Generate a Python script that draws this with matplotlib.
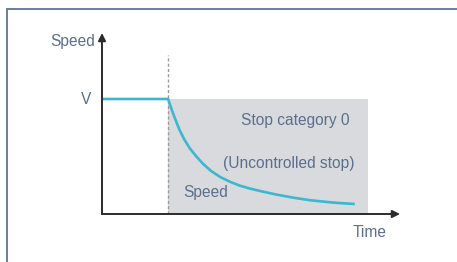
import matplotlib.pyplot as plt
from matplotlib.lines import Line2D

# Speed profile for a category 0 stop (speed as fraction of V, time in units of t_stop)
t_run = [0.0, 1.0]
v_run = [1.0, 1.0]
t_decay = [1.0, 1.04, 1.08, 1.13, 1.18, 1.25, 1.33, 1.43, 1.53, 1.65, 1.79, 1.94,
           2.09, 2.25, 2.41, 2.65, 2.92, 3.15, 3.42, 3.6, 3.83]
v_decay = [1.0, 0.935, 0.87, 0.795, 0.725, 0.645, 0.572, 0.5, 0.437, 0.375, 0.322, 0.28,
           0.246, 0.22, 0.198, 0.168, 0.14, 0.12, 0.104, 0.095, 0.087]
stop_window = [1.0, 4.03]
v_level = 1.0

text_col = "#5b6f8c"
line_col = "#3db6cf"
plt.rcParams["font.family"] = ["Liberation Sans", "DejaVu Sans"]

fig = plt.figure(figsize=(4.57, 2.62), dpi=100)
W, H = 457, 262

# outer frame (top + left edge only visible)
fig.add_artist(Line2D([7 / W, 7 / W], [0, 1 - 9 / H], color="#6b7f99", lw=1.4))
fig.add_artist(Line2D([7 / W, 1], [1 - 9 / H, 1 - 9 / H], color="#6b7f99", lw=1.4))

ax = fig.add_axes([102 / W, 48 / H, 298 / W, 181 / H])
ax.set_xlim(0, 298 / 66)
ax.set_ylim(0, 181 / 115)
ax.axis("off")

# shaded stop region
ax.fill_between(stop_window, 0, v_level, color="#d9dade", lw=0, zorder=1)

# dashed stop marker
ax.vlines(stop_window[0], 0, 1.383, colors="#9a9a9a", linestyles=(0, (2.2, 1.6)), lw=1.0, zorder=2)

# speed curve
ax.plot(t_run + t_decay[1:], v_run + v_decay[1:], color=line_col, lw=1.9,
        solid_joinstyle="round", solid_capstyle="butt", zorder=3)

# axes with arrows
arrow = dict(arrowstyle="-|>", color="#2b2b2b", lw=1.4, mutation_scale=11,
             shrinkA=0, shrinkB=0)
ax.annotate("", xy=(1, 0), xytext=(0, 0), xycoords="axes fraction",
            textcoords="axes fraction", arrowprops=arrow, zorder=4)
ax.annotate("", xy=(0, 1), xytext=(0, 0), xycoords="axes fraction",
            textcoords="axes fraction", arrowprops=arrow, zorder=4)

fs = 11.2
ax.text(-0.106, 1.496, "Speed", ha="right", va="center", color=text_col, fontsize=fs)
ax.text(-0.167, v_level, "V", ha="right", va="center", color=text_col, fontsize=fs)
ax.text(2.925, 0.817, "Stop category 0", ha="center", va="center", color=text_col, fontsize=fs)
ax.text(2.835, 0.443, "(Uncontrolled stop)", ha="center", va="center", color=text_col, fontsize=fs)
ax.text(1.23, 0.183, "Speed", ha="left", va="center", color=text_col, fontsize=fs)
ax.text(3.79, -0.157, "Time", ha="left", va="center", color=text_col, fontsize=fs)

fig.savefig("out.png", dpi=100)
